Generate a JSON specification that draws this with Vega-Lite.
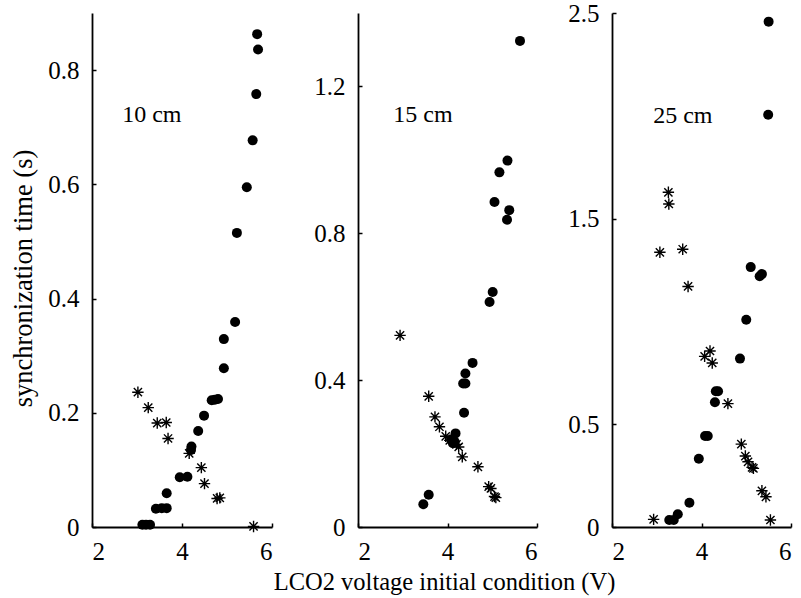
{
  "$schema": "https://vega.github.io/schema/vega-lite/v6.json",
  "padding": {"left": 10, "top": 1, "right": 2, "bottom": 2},
  "background": "white",
  "config": {
    "view": {"stroke": null},
    "font": "Liberation Serif",
    "axis": {
      "domainColor": "black", "domainWidth": 1.8, "tickColor": "black", "tickWidth": 1.5, "tickSize": -4,
      "labelColor": "black", "labelFont": "Liberation Serif", "labelFontSize": 25,
      "titleFont": "Liberation Serif", "titleFontSize": 24.5, "titleFontWeight": "normal", "titleColor": "black",
      "grid": false
    },
    "axisX": {"labelPadding": 16, "titlePadding": 6},
    "axisY": {"labelPadding": 17, "titlePadding": 10}
  },
  "datasets": {
    "pts": [
      {"p": "10", "s": "c", "v": 5.67, "t": 0.863},
      {"p": "10", "s": "c", "v": 5.69, "t": 0.836},
      {"p": "10", "s": "c", "v": 5.65, "t": 0.758},
      {"p": "10", "s": "c", "v": 5.57, "t": 0.677},
      {"p": "10", "s": "c", "v": 5.44, "t": 0.595},
      {"p": "10", "s": "c", "v": 5.22, "t": 0.515},
      {"p": "10", "s": "c", "v": 5.18, "t": 0.359},
      {"p": "10", "s": "c", "v": 4.93, "t": 0.329},
      {"p": "10", "s": "c", "v": 4.93, "t": 0.278},
      {"p": "10", "s": "c", "v": 4.66, "t": 0.222},
      {"p": "10", "s": "c", "v": 4.73, "t": 0.223},
      {"p": "10", "s": "c", "v": 4.8, "t": 0.224},
      {"p": "10", "s": "c", "v": 4.49, "t": 0.195},
      {"p": "10", "s": "c", "v": 4.36, "t": 0.168},
      {"p": "10", "s": "c", "v": 4.2, "t": 0.135},
      {"p": "10", "s": "c", "v": 4.21, "t": 0.141},
      {"p": "10", "s": "c", "v": 3.95, "t": 0.087},
      {"p": "10", "s": "c", "v": 4.12, "t": 0.088},
      {"p": "10", "s": "c", "v": 3.66, "t": 0.059},
      {"p": "10", "s": "c", "v": 3.42, "t": 0.032},
      {"p": "10", "s": "c", "v": 3.55, "t": 0.033},
      {"p": "10", "s": "c", "v": 3.66, "t": 0.033},
      {"p": "10", "s": "c", "v": 3.12, "t": 0.004},
      {"p": "10", "s": "c", "v": 3.2, "t": 0.004},
      {"p": "10", "s": "c", "v": 3.29, "t": 0.004},
      {"p": "10", "s": "s", "v": 3.02, "t": 0.236},
      {"p": "10", "s": "s", "v": 3.25, "t": 0.209},
      {"p": "10", "s": "s", "v": 3.45, "t": 0.182},
      {"p": "10", "s": "s", "v": 3.65, "t": 0.183},
      {"p": "10", "s": "s", "v": 3.69, "t": 0.155},
      {"p": "10", "s": "s", "v": 4.16, "t": 0.129},
      {"p": "10", "s": "s", "v": 4.43, "t": 0.104},
      {"p": "10", "s": "s", "v": 4.5, "t": 0.076},
      {"p": "10", "s": "s", "v": 4.78, "t": 0.05},
      {"p": "10", "s": "s", "v": 4.84, "t": 0.051},
      {"p": "10", "s": "s", "v": 5.59, "t": 0.001},
      {"p": "15", "s": "c", "v": 5.62, "t": 1.324},
      {"p": "15", "s": "c", "v": 5.34, "t": 0.998},
      {"p": "15", "s": "c", "v": 5.16, "t": 0.966},
      {"p": "15", "s": "c", "v": 5.05, "t": 0.885},
      {"p": "15", "s": "c", "v": 5.38, "t": 0.863},
      {"p": "15", "s": "c", "v": 5.33, "t": 0.837},
      {"p": "15", "s": "c", "v": 5.01, "t": 0.64},
      {"p": "15", "s": "c", "v": 4.94, "t": 0.613},
      {"p": "15", "s": "c", "v": 4.56, "t": 0.447},
      {"p": "15", "s": "c", "v": 4.4, "t": 0.418},
      {"p": "15", "s": "c", "v": 4.35, "t": 0.391},
      {"p": "15", "s": "c", "v": 4.4, "t": 0.391},
      {"p": "15", "s": "c", "v": 4.37, "t": 0.311},
      {"p": "15", "s": "c", "v": 4.18, "t": 0.255},
      {"p": "15", "s": "c", "v": 4.08, "t": 0.238},
      {"p": "15", "s": "c", "v": 4.12, "t": 0.228},
      {"p": "15", "s": "c", "v": 4.16, "t": 0.232},
      {"p": "15", "s": "c", "v": 3.58, "t": 0.088},
      {"p": "15", "s": "c", "v": 3.46, "t": 0.062},
      {"p": "15", "s": "s", "v": 2.94, "t": 0.522},
      {"p": "15", "s": "s", "v": 3.58, "t": 0.356},
      {"p": "15", "s": "s", "v": 3.72, "t": 0.3},
      {"p": "15", "s": "s", "v": 3.82, "t": 0.273},
      {"p": "15", "s": "s", "v": 3.96, "t": 0.247},
      {"p": "15", "s": "s", "v": 4.05, "t": 0.236},
      {"p": "15", "s": "s", "v": 4.2, "t": 0.225},
      {"p": "15", "s": "s", "v": 4.25, "t": 0.218},
      {"p": "15", "s": "s", "v": 4.33, "t": 0.191},
      {"p": "15", "s": "s", "v": 4.68, "t": 0.164},
      {"p": "15", "s": "s", "v": 4.92, "t": 0.11},
      {"p": "15", "s": "s", "v": 4.97, "t": 0.105},
      {"p": "15", "s": "s", "v": 5.05, "t": 0.083},
      {"p": "15", "s": "s", "v": 5.08, "t": 0.08},
      {"p": "25", "s": "c", "v": 5.5, "t": 2.458},
      {"p": "25", "s": "c", "v": 5.49, "t": 2.005},
      {"p": "25", "s": "c", "v": 5.1, "t": 1.264},
      {"p": "25", "s": "c", "v": 5.3, "t": 1.22},
      {"p": "25", "s": "c", "v": 5.35, "t": 1.23},
      {"p": "25", "s": "c", "v": 5.0, "t": 1.008},
      {"p": "25", "s": "c", "v": 4.86, "t": 0.819},
      {"p": "25", "s": "c", "v": 4.32, "t": 0.66},
      {"p": "25", "s": "c", "v": 4.37, "t": 0.66},
      {"p": "25", "s": "c", "v": 4.3, "t": 0.607},
      {"p": "25", "s": "c", "v": 4.08, "t": 0.443},
      {"p": "25", "s": "c", "v": 4.14, "t": 0.443},
      {"p": "25", "s": "c", "v": 3.94, "t": 0.332},
      {"p": "25", "s": "c", "v": 3.73, "t": 0.118},
      {"p": "25", "s": "c", "v": 3.47, "t": 0.062},
      {"p": "25", "s": "c", "v": 3.28, "t": 0.034},
      {"p": "25", "s": "c", "v": 3.38, "t": 0.034},
      {"p": "25", "s": "s", "v": 3.26, "t": 1.628},
      {"p": "25", "s": "s", "v": 3.27, "t": 1.571},
      {"p": "25", "s": "s", "v": 3.07, "t": 1.336},
      {"p": "25", "s": "s", "v": 3.58, "t": 1.351},
      {"p": "25", "s": "s", "v": 3.7, "t": 1.17},
      {"p": "25", "s": "s", "v": 4.19, "t": 0.856},
      {"p": "25", "s": "s", "v": 4.07, "t": 0.83},
      {"p": "25", "s": "s", "v": 4.24, "t": 0.798},
      {"p": "25", "s": "s", "v": 4.59, "t": 0.6},
      {"p": "25", "s": "s", "v": 4.89, "t": 0.403},
      {"p": "25", "s": "s", "v": 4.98, "t": 0.345},
      {"p": "25", "s": "s", "v": 5.04, "t": 0.317},
      {"p": "25", "s": "s", "v": 5.13, "t": 0.29},
      {"p": "25", "s": "s", "v": 5.16, "t": 0.285},
      {"p": "25", "s": "s", "v": 5.35, "t": 0.176},
      {"p": "25", "s": "s", "v": 5.44, "t": 0.147},
      {"p": "25", "s": "s", "v": 5.54, "t": 0.034},
      {"p": "25", "s": "s", "v": 2.93, "t": 0.037}
    ],
    "labels": [
      {"p": "10", "v": 2.67, "t": 0.721, "label": "10 cm"},
      {"p": "15", "v": 2.79, "t": 1.121, "label": "15 cm"},
      {"p": "25", "v": 2.92, "t": 2.0, "label": "25 cm"}
    ]
  },
  "bounds": "flush",
  "spacing": 75,
  "hconcat": [
    {
      "width": 191, "height": 514,
      "data": {"name": "pts"},
      "encoding": {
        "x": {"field": "v", "type": "quantitative", "scale": {"domain": [2, 6], "range": [0, 180], "nice": false},
              "axis": {"values": [2, 4, 6], "format": "d", "title": null}},
        "y": {"field": "t", "type": "quantitative", "scale": {"domain": [0, 0.9], "nice": false, "zero": true},
              "axis": {"values": [0, 0.2, 0.4, 0.6, 0.8], "format": ".1~f", "title": "synchronization time (s)", "titleFontSize": 26.5, "titleY": 265}}
      },
      "layer": [
        {"transform": [{"filter": "datum.p == '10' && datum.s == 'c'"}],
         "mark": {"type": "circle", "size": 100, "color": "black", "opacity": 1}},
        {"transform": [{"filter": "datum.p == '10' && datum.s == 's'"}],
         "mark": {"type": "point", "shape": "M-1,0L1,0M0,-1L0,1M-0.72,-0.72L0.72,0.72M-0.72,0.72L0.72,-0.72", "size": 130, "filled": false, "stroke": "black", "strokeWidth": 1.4, "opacity": 1}},
        {"data": {"name": "labels"}, "transform": [{"filter": "datum.p == '10'"}],
         "mark": {"type": "text", "align": "left", "baseline": "middle", "fontSize": 24, "font": "Liberation Serif", "color": "black"},
         "encoding": {"text": {"field": "label"}}}
      ]
    },
    {
      "width": 179, "height": 514,
      "data": {"name": "pts"},
      "encoding": {
        "x": {"field": "v", "type": "quantitative", "scale": {"domain": [2, 6], "nice": false},
              "axis": {"values": [2, 4, 6], "format": "d", "title": "LCO2 voltage initial condition (V)", "titleX": 86}},
        "y": {"field": "t", "type": "quantitative", "scale": {"domain": [0, 1.4], "nice": false, "zero": true},
              "axis": {"values": [0, 0.4, 0.8, 1.2], "format": ".1~f", "title": null}}
      },
      "layer": [
        {"transform": [{"filter": "datum.p == '15' && datum.s == 'c'"}],
         "mark": {"type": "circle", "size": 100, "color": "black", "opacity": 1}},
        {"transform": [{"filter": "datum.p == '15' && datum.s == 's'"}],
         "mark": {"type": "point", "shape": "M-1,0L1,0M0,-1L0,1M-0.72,-0.72L0.72,0.72M-0.72,0.72L0.72,-0.72", "size": 130, "filled": false, "stroke": "black", "strokeWidth": 1.4, "opacity": 1}},
        {"data": {"name": "labels"}, "transform": [{"filter": "datum.p == '15'"}],
         "mark": {"type": "text", "align": "left", "baseline": "middle", "fontSize": 24, "font": "Liberation Serif", "color": "black"},
         "encoding": {"text": {"field": "label"}}}
      ]
    },
    {
      "width": 179, "height": 514,
      "data": {"name": "pts"},
      "encoding": {
        "x": {"field": "v", "type": "quantitative", "scale": {"domain": [2, 6], "nice": false},
              "axis": {"values": [2, 4, 6], "format": "d", "title": null}},
        "y": {"field": "t", "type": "quantitative", "scale": {"domain": [0, 2.5], "nice": false, "zero": true},
              "axis": {"values": [0, 0.5, 1.5, 2.5], "format": ".1~f", "title": null}}
      },
      "layer": [
        {"transform": [{"filter": "datum.p == '25' && datum.s == 'c'"}],
         "mark": {"type": "circle", "size": 100, "color": "black", "opacity": 1}},
        {"transform": [{"filter": "datum.p == '25' && datum.s == 's'"}],
         "mark": {"type": "point", "shape": "M-1,0L1,0M0,-1L0,1M-0.72,-0.72L0.72,0.72M-0.72,0.72L0.72,-0.72", "size": 130, "filled": false, "stroke": "black", "strokeWidth": 1.4, "opacity": 1}},
        {"data": {"name": "labels"}, "transform": [{"filter": "datum.p == '25'"}],
         "mark": {"type": "text", "align": "left", "baseline": "middle", "fontSize": 24, "font": "Liberation Serif", "color": "black"},
         "encoding": {"text": {"field": "label"}}}
      ]
    }
  ]
}
